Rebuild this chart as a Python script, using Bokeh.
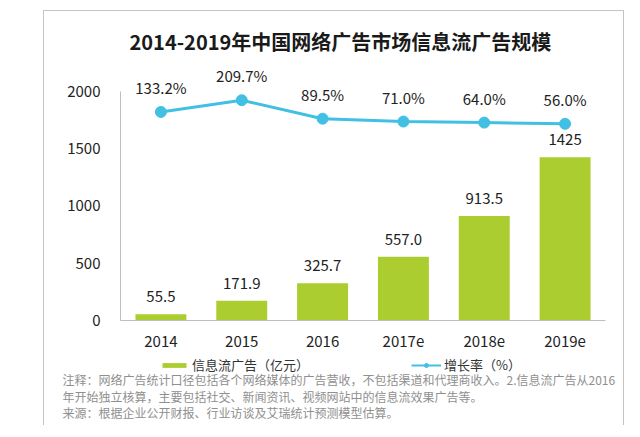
from bokeh.plotting import figure
from bokeh.layouts import column
from bokeh.models import Range1d, Legend, LegendItem, Label, ColumnDataSource
from bokeh.core.properties import value
from bokeh.embed import file_html
from bokeh.resources import INLINE

# ---- data ----
years = ["2014", "2015", "2016", "2017e", "2018e", "2019e"]
ad_revenue = [55.5, 171.9, 325.7, 557.0, 913.5, 1425]
ad_labels = ["55.5", "171.9", "325.7", "557.0", "913.5", "1425"]
growth = [133.2, 209.7, 89.5, 71.0, 64.0, 56.0]
growth_labels = ["133.2%", "209.7%", "89.5%", "71.0%", "64.0%", "56.0%"]
y_ticks = [0, 500, 1000, 1500, 2000]
title_text = "2014-2019年中国网络广告市场信息流广告规模"
bar_legend = "信息流广告（亿元）"
line_legend = "增长率（%）"
notes = [
    "注释：网络广告统计口径包括各个网络媒体的广告营收，不包括渠道和代理商收入。2.信息流广告从2016",
    "年开始独立核算，主要包括社交、新闻资讯、视频网站中的信息流效果广告等。",
    "来源：根据企业公开财报、行业访谈及艾瑞统计预测模型估算。",
]

FONT = "Noto Sans CJK SC"
GREEN = "#abcd30"
BLUE = "#42c0e4"
TEXT = "#222222"
AXIS = "#bfbfbf"
W = 579

src = ColumnDataSource(dict(year=years, rev=ad_revenue, rev_label=ad_labels,
                            growth=growth, growth_label=growth_labels))

# ---------- main chart ----------
p = figure(x_range=years, y_range=Range1d(0, 2262), width=W, height=342,
           output_backend="svg", toolbar_location=None,
           min_border_left=76, min_border_right=18, min_border_top=50, min_border_bottom=33,
           title=title_text)
p.frame_align = False
p.extra_y_ranges = {"growth": Range1d(-1225, 462)}
p.outline_line_color = None
p.background_fill_color = "white"
p.border_fill_color = "white"
p.xgrid.visible = False
p.ygrid.visible = False

p.vbar(x="year", top="rev", width=0.63, source=src, fill_color=GREEN, line_color=None)
p.line(x="year", y="growth", source=src, y_range_name="growth", line_color=BLUE, line_width=3)
p.scatter(x="year", y="growth", source=src, y_range_name="growth", size=11,
          fill_color=BLUE, line_color=BLUE)

p.text(x="year", y="rev", text="rev_label", source=src, y_offset=-12,
       text_align="center", text_baseline="bottom", text_font=value(FONT),
       text_font_size="15px", text_color=TEXT)
p.text(x="year", y="growth", text="growth_label", source=src, y_range_name="growth",
       y_offset=-14, text_align="center", text_baseline="bottom", text_font=value(FONT),
       text_font_size="15px", text_color=TEXT)

p.yaxis.ticker = y_ticks
p.yaxis.bounds = (0, 2000)
for ax in (p.xaxis, p.yaxis):
    ax.axis_line_color = AXIS
    ax.major_tick_line_color = None
    ax.minor_tick_line_color = None
    ax.major_label_text_font = FONT
    ax.major_label_text_font_size = "15px"
    ax.major_label_text_color = TEXT
p.yaxis.major_label_standoff = 14
p.xaxis.major_label_standoff = 9

p.title.text_font = FONT
p.title.text_font_size = "20px"
p.title.text_font_style = "bold"
p.title.text_color = "#1a1a1a"
p.title.align = "left"
p.title.offset = 9
p.title.standoff = 11

# ---------- legend + notes strip ----------
# the strip's own view window (0..1) keeps its legend proxies out of sight
q = figure(width=W, height=72, output_backend="svg", toolbar_location=None,
           x_axis_type=None, y_axis_type=None, min_border=0,
           x_range=Range1d(0, 1), y_range=Range1d(0, 1))
q.frame_align = False
q.outline_line_color = None
q.background_fill_color = "white"
q.border_fill_color = "white"
q.xgrid.visible = False
q.ygrid.visible = False

lb = q.vbar(x="rev", top="rev", width=0.6, source=src, fill_color=GREEN, line_color=None)
ll = q.line(x="rev", y="rev", source=src, line_color=BLUE, line_width=2)
lp = q.scatter(x="rev", y="rev", source=src, size=7, fill_color=BLUE, line_color=BLUE)

common = dict(orientation="horizontal", glyph_width=30, label_standoff=3, padding=0, margin=0,
              border_line_color=None, background_fill_alpha=0, label_height=18,
              label_text_font=FONT, label_text_font_size="13px", label_text_color="#333333")
q.add_layout(Legend(items=[LegendItem(label=bar_legend, renderers=[lb])],
                    location=(115, 51), glyph_height=6, **common))
q.add_layout(Legend(items=[LegendItem(label=line_legend, renderers=[ll, lp])],
                    location=(367, 51), glyph_height=10, **common))

for i, note in enumerate(notes):
    q.add_layout(Label(x=18, y=46 - 16.5 * i, x_units="screen", y_units="screen",
                       text=note, text_baseline="middle", text_font=FONT,
                       text_font_size="12px", text_color="#8f8f8f"))

layout = column(p, q, spacing=0)
layout.margin = (10, 0, 0, 43)
layout.styles = {"border-top": "1px solid #c4c4c4", "border-left": "1px solid #c4c4c4",
                 "border-right": "1px solid #c4c4c4"}

open("out.html", "w").write(file_html(layout, INLINE))
